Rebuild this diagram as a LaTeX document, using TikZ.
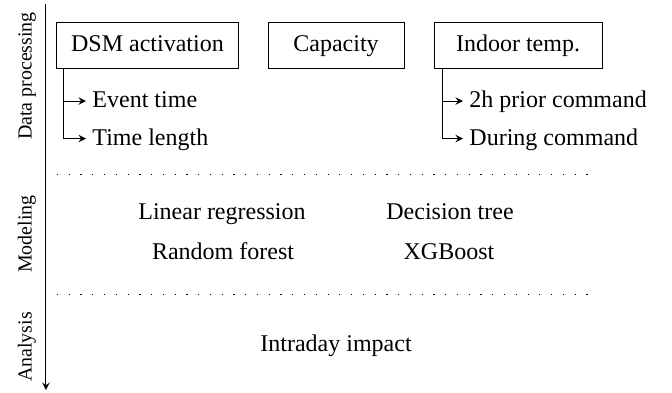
\documentclass[tikz,border=0pt]{standalone}
\usepackage{fontspec}
\setmainfont{Liberation Serif}

\tikzstyle{stageBox}=[shape=rectangle,draw=black,minimum height=0.673cm,inner sep=2pt]
\tikzstyle{subItem}=[anchor=west,inner sep=2.5pt]
\tikzstyle{stageLabel}=[rotate=90,font=\fontsize{8.3pt}{10pt}\selectfont]
\tikzstyle{sepLine}=[dash pattern=on 0.5pt off 4.4pt]

\begin{document}
\begin{tikzpicture}[>=stealth,every node/.append style={text height=1.6ex,text depth=0.4ex}]
        \useasboundingbox (0,0) rectangle (9.838,-5.739);

        % time axis
        \coordinate (top) at (0.673,-0.059);
        \coordinate (bottom) at (0.673,-5.71);
        \draw [->] (top) to (bottom);

        \node[stageLabel] (lData) at (0.366,-1.113) {Data processing};
        \node[stageLabel] (lModel) at (0.366,-3.426) {Modeling};
        \node[stageLabel] (lAna) at (0.366,-5.08) {Analysis};

        % data processing
        \node[stageBox,minimum width=2.65cm] (dsm) at (2.159,-0.659) {DSM activation};
        \node[stageBox,minimum width=1.991cm] (cap) at (4.919,-0.659) {Capacity};
        \node[stageBox,minimum width=2.46cm] (temp) at (7.584,-0.659) {Indoor temp.};

        \node[subItem] (evt) at (1.259,-1.479) {Event time};
        \node[subItem] (len) at (1.259,-2.028) {Time length};
        \node[subItem] (prior) at (6.778,-1.479) {2h prior command};
        \node[subItem] (during) at (6.778,-2.028) {During command};

        \draw [->] ([xshift=0.1cm]dsm.south west) |- (evt.west);
        \draw [->] ([xshift=0.1cm]dsm.south west) |- (len.west);
        \draw [->] ([xshift=0.13cm]temp.south west) |- (prior.west);
        \draw [->] ([xshift=0.13cm]temp.south west) |- (during.west);

        \coordinate (s1a) at (0.834,-2.547);
        \coordinate (s1b) at (8.696,-2.547);
        \draw [sepLine] (s1a) to (s1b);

        % modeling
        \node (lr) at (3.25,-3.118) {Linear regression};
        \node (dt) at (6.588,-3.118) {Decision tree};
        \node (rf) at (3.265,-3.704) {Random forest};
        \node (xgb) at (6.573,-3.704) {XGBoost};

        \coordinate (s2a) at (0.834,-4.304);
        \coordinate (s2b) at (8.696,-4.304);
        \draw [sepLine] (s2a) to (s2b);

        % analysis
        \node (intra) at (4.919,-5.051) {Intraday impact};
\end{tikzpicture}
\end{document}
